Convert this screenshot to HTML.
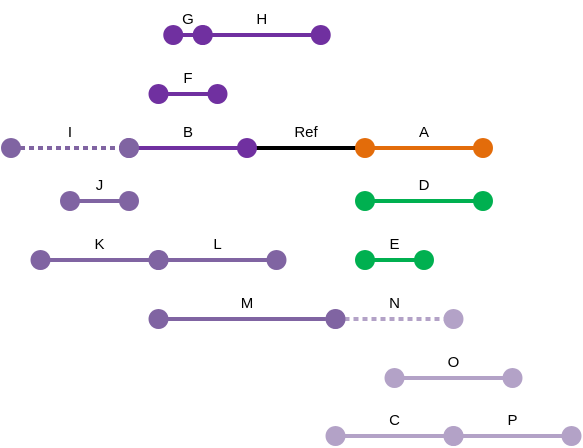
<!DOCTYPE html>
<html><head><meta charset="utf-8"><style>
html,body{margin:0;padding:0;background:#fff;}
svg{display:block;font-family:"Liberation Sans",Arial,sans-serif;}
</style></head><body>
<svg id="chart" width="583" height="448" viewBox="0 0 583 448"></svg>
<script>
const labels = ["Ref","B","I","A","G","H","F","J","D","K","L","E","N","M","O","C","P"];
const starts = [4,2,0,6,2.75,3.25,2.5,1,6,0.5,2.5,6,5.5,2.5,6.5,5.5,7.5];
const ends   = [6,4,2,8,3.25,5.25,3.5,2,8,2.5,4.5,7,7.5,5.5,8.5,7.5,9.5];
const rows   = [2,2,2,2,0,0,1,3,3,4,4,4,5,5,6,7,7];
const kinds  = ["ref","dark","medDash","orange","dark","dark","dark","med","green","med","med","green","lightDash","med","light","light","light"];
const colors = {ref:"#000000",dark:"#7030A0",med:"#8064A2",medDash:"#8064A2",orange:"#E36C0A",green:"#00B050",light:"#B3A2C7",lightDash:"#B3A2C7"};
const nodeColors = {ref:"#7030A0",dark:"#7030A0",med:"#8064A2",medDash:"#8064A2",orange:"#E36C0A",green:"#00B050",light:"#B3A2C7",lightDash:"#B3A2C7"};
const xs = v => 11 + v*59;
const rowY = [35,94,148,201,260,319,378,436];
const ys = r => rowY[r];
const svg = document.getElementById('chart');
const NS = "http://www.w3.org/2000/svg";
function mk(t,a){const e=document.createElementNS(NS,t);for(const k in a)e.setAttribute(k,a[k]);svg.appendChild(e);return e;}
labels.forEach((lab,i)=>{
  const x1=xs(starts[i]),x2=xs(ends[i]),y=ys(rows[i]);
  const k=kinds[i];
  const ln=mk('line',{x1:x1,x2:x2,y1:y,y2:y,stroke:colors[k],'stroke-width':4});
  if(k.endsWith('Dash')) ln.setAttribute('stroke-dasharray','5,4');
  
  
  const t=mk('text',{x:(x1+x2)/2,y:y-11,'text-anchor':'middle','font-size':15,fill:'#000'});
  t.textContent=lab;
  
  
});
labels.forEach((lab,i)=>{
  const y=ys(rows[i]);
  const k=kinds[i];
  if(k==='ref') return;
  const c = nodeColors[k];
  [starts[i],ends[i]].forEach((v,j)=>{
    const n=mk('circle',{cx:xs(v),cy:y,r:10,fill:c});
    
    
  });
});
</script>
</body></html>
